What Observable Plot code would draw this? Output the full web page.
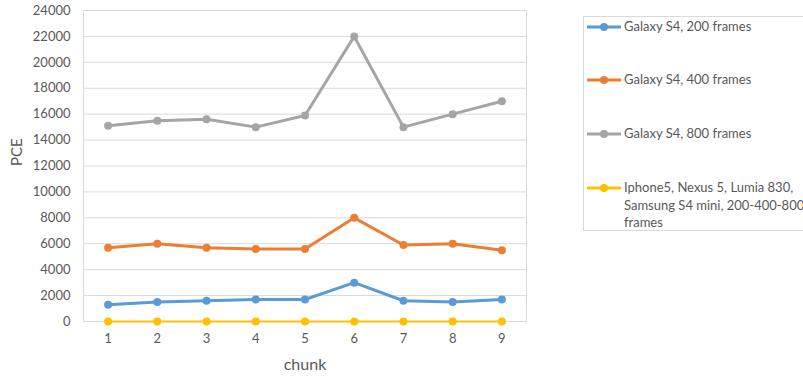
<!DOCTYPE html>
<html>
<head>
<meta charset="utf-8">
<script src="https://cdn.jsdelivr.net/npm/d3@7"></script>
<script src="https://cdn.jsdelivr.net/npm/@observablehq/plot@0.6"></script>
<style>
  html, body { margin: 0; padding: 0; background: #fff; }
  #wrap { position: relative; width: 803px; height: 377px; overflow: hidden; font-family: Lato, "Open Sans", sans-serif; color: #595959; }
  #legend { position: absolute; left: 583px; top: 16px; width: 240px; height: 215px; border: 1px solid #d9d9d9; box-sizing: border-box; }
  .item { position: absolute; left: 3px; display: flex; align-items: flex-start; font-size: 13px; line-height: 17.5px; }
  .swatch { width: 36px; height: 17px; flex: none; }
  .label { margin-left: 1px; }
</style>
</head>
<body>
<div id="wrap">
  <div id="chart"></div>
  <div id="legend"></div>
</div>
<script>
const chunks = [1, 2, 3, 4, 5, 6, 7, 8, 9];
const seriesNames = [
  "Galaxy S4, 200 frames",
  "Galaxy S4, 400 frames",
  "Galaxy S4, 800 frames",
  "Iphone5, Nexus 5, Lumia 830, Samsung S4 mini, 200-400-800 frames"
];
const s4_200 = [1300, 1500, 1600, 1700, 1700, 3000, 1600, 1500, 1700];
const s4_400 = [5700, 6000, 5700, 5600, 5600, 8000, 5900, 6000, 5500];
const s4_800 = [15100, 15500, 15600, 15000, 15900, 22000, 15000, 16000, 17000];
const others = [0, 0, 0, 0, 0, 0, 0, 0, 0];
const colors = ["#5b9bd5", "#ed7d31", "#a5a5a5", "#ffc000"];
const widths = [3, 3, 3, 2];
const yTicks = [0, 2000, 4000, 6000, 8000, 10000, 12000, 14000, 16000, 18000, 20000, 22000, 24000];

const seriesValues = [s4_200, s4_400, s4_800, others];
const rows = seriesValues.flatMap((vals, i) =>
  vals.map((v, j) => ({series: seriesNames[i], chunk: chunks[j], pce: v, w: widths[i]}))
);

const chart = Plot.plot({
  width: 803,
  height: 377,
  marginLeft: 83,
  marginRight: 277,
  marginTop: 10,
  marginBottom: 56,
  style: {fontFamily: "Lato, 'Open Sans', sans-serif", color: "#595959", fontSize: "13px", background: "#fff"},
  x: {domain: [0.5, 9.5]},
  y: {domain: [0, 24000]},
  color: {domain: seriesNames, range: colors},
  marks: [
    Plot.gridY(yTicks, {stroke: "#d9d9d9", strokeOpacity: 1}),
    Plot.frame({stroke: "#d9d9d9"}),
    Plot.axisY(yTicks, {tickSize: 0, tickPadding: 13, label: null, fontSize: 13, fill: "#595959", tickFormat: d => String(d)}),
    Plot.axisX(chunks, {tickSize: 0, tickPadding: 12, label: null, fontSize: 13, fill: "#595959", tickFormat: d => String(d)}),
    Plot.text(["PCE"], {frameAnchor: "left", dx: -66, rotate: -90, fontSize: 15, fill: "#595959"}),
    Plot.text(["chunk"], {frameAnchor: "bottom", dy: 48, fontSize: 16, fill: "#595959"}),
    Plot.line(rows, {x: "chunk", y: "pce", z: "series", stroke: "series", strokeWidth: "w", strokeLinejoin: "round"}),
    Plot.dot(rows, {x: "chunk", y: "pce", fill: "series", r: 4})
  ]
});
document.getElementById("chart").appendChild(chart);

// legend entries
const legend = document.getElementById("legend");
const tops = [1, 54, 108, 162];
seriesNames.forEach((name, i) => {
  const item = document.createElement("div");
  item.className = "item";
  item.style.top = tops[i] + "px";
  item.innerHTML = `<svg class="swatch" width="36" height="17"><line x1="0" x2="34" y1="9" y2="9" stroke="${colors[i]}" stroke-width="3"/><circle cx="17" cy="9" r="4" fill="${colors[i]}"/></svg><span class="label" style="width:200px">${name}</span>`;
  legend.appendChild(item);
});
</script>
</body>
</html>
